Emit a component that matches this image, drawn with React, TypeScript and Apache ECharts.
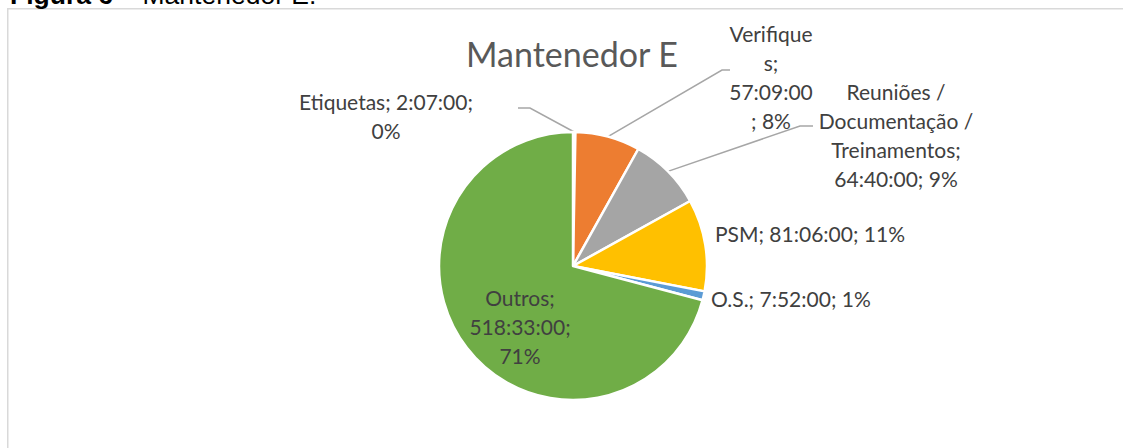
import React, { useEffect, useRef } from "react";
import * as echarts from "echarts";

// ---- data ----
const categories = [
  "Etiquetas",
  "Verifiques",
  "Reuniões / Documentação / Treinamentos",
  "PSM",
  "O.S.",
  "Outros",
];
const durations = ["2:07:00", "57:09:00", "64:40:00", "81:06:00", "7:52:00", "518:33:00"];
const hoursValues = [2.117, 57.15, 64.667, 81.1, 7.867, 518.55];
const sliceColors = ["#FFFFFF", "#ED7D31", "#A5A5A5", "#FFC000", "#5B9BD5", "#70AD47"];
const chartTitle = "Mantenedor E";
const captionBold = "Figura 6";
const captionRest = " – Mantenedor E.";

// ---- layout (label placement, not data) ----
type Place = { x: number; y: number; align: string; line?: number[][] };
const labelPlaces: Place[] = [
  { x: 386, y: 116, align: "center", line: [[530, 108], [518, 108]] },
  { x: 771, y: 77, align: "center", line: [[722, 70], [730, 70]] },
  { x: 896, y: 135, align: "center", line: [[800, 126], [813, 126]] },
  { x: 715, y: 233, align: "left" },
  { x: 711, y: 298, align: "left" },
  { x: 520, y: 326, align: "center" },
];

function labelFor(i: number, pct: number): string {
  const n = categories[i];
  const t = durations[i];
  const p = Math.round(pct) + "%";
  switch (i) {
    case 0:
      return `${n}; ${t};\n${p}`;
    case 1:
      return `${n.slice(0, 9)}\n${n.slice(9)};\n${t}\n; ${p}`;
    case 2:
      return `${n.split(" / ").join(" /\n")};\n${t}; ${p}`;
    case 5:
      return `${n};\n${t};\n${p}`;
    default:
      return `${n}; ${t}; ${p}`;
  }
}

export default function App() {
  const ref = useRef<HTMLDivElement>(null);
  useEffect(() => {
    if (!ref.current) return;
    const chart = echarts.init(ref.current, null, { renderer: "svg" });
    const labelFont = "Lato, 'Noto Sans', sans-serif";
    const capFont = "'Liberation Sans', Arial, sans-serif";
    chart.setOption({
      animation: false,
      backgroundColor: "#FFFFFF",
      graphic: [
        {
          type: "rect",
          shape: { x: 7.75, y: 8.75, width: 1400, height: 800 },
          style: { fill: "none", stroke: "#D9D9D9", lineWidth: 1.5 },
          silent: true,
        },
        {
          type: "text",
          x: 10,
          y: -5,
          style: {
            text: `{b|${captionBold}}{r|${captionRest}}`,
            verticalAlign: "middle",
            align: "left",
            rich: {
              b: { fontFamily: capFont, fontWeight: "bold", fontSize: 26.5, fill: "#000" },
              r: { fontFamily: capFont, fontSize: 26.5, fill: "#000" },
            },
          },
        },
        {
          type: "text",
          x: 572,
          y: 53,
          style: {
            text: chartTitle,
            align: "center",
            verticalAlign: "middle",
            fontFamily: labelFont,
            fontSize: 34,
            fill: "#595959",
          },
        },
      ],
      series: [
        {
          type: "pie",
          center: [573, 266],
          radius: 134,
          startAngle: 90,
          clockwise: true,
          avoidLabelOverlap: false,
          itemStyle: { borderColor: "#FFFFFF", borderWidth: 2.5 },
          label: {
            show: true,
            position: "outside",
            fontFamily: labelFont,
            fontSize: 21,
            lineHeight: 29,
            color: "#404040",
            formatter: (p: any) => labelFor(p.dataIndex, p.percent),
          },
          labelLine: {
            show: true,
            smooth: false,
            length: 10,
            length2: 10,
            lineStyle: { color: "#A6A6A6", width: 1.5 },
          },
          emphasis: { disabled: true },
          labelLayout: (params: any) => {
            const pl = labelPlaces[params.dataIndex];
            const out: any = {
              x: pl.x,
              y: pl.y,
              align: pl.align,
              verticalAlign: "middle",
            };
            if (pl.line && params.labelLinePoints) {
              out.labelLinePoints = [params.labelLinePoints[0], pl.line[0], pl.line[1]];
            }
            return out;
          },
          data: categories.map((name, i) => ({
            name,
            value: hoursValues[i],
            itemStyle: { color: sliceColors[i] },
            labelLine: { show: !!labelPlaces[i].line },
          })),
        },
      ],
    });
    return () => chart.dispose();
  }, []);
  return (
    <div
      ref={ref}
      style={{ position: "absolute", left: 0, top: 0, width: 1123, height: 448 }}
    />
  );
}
